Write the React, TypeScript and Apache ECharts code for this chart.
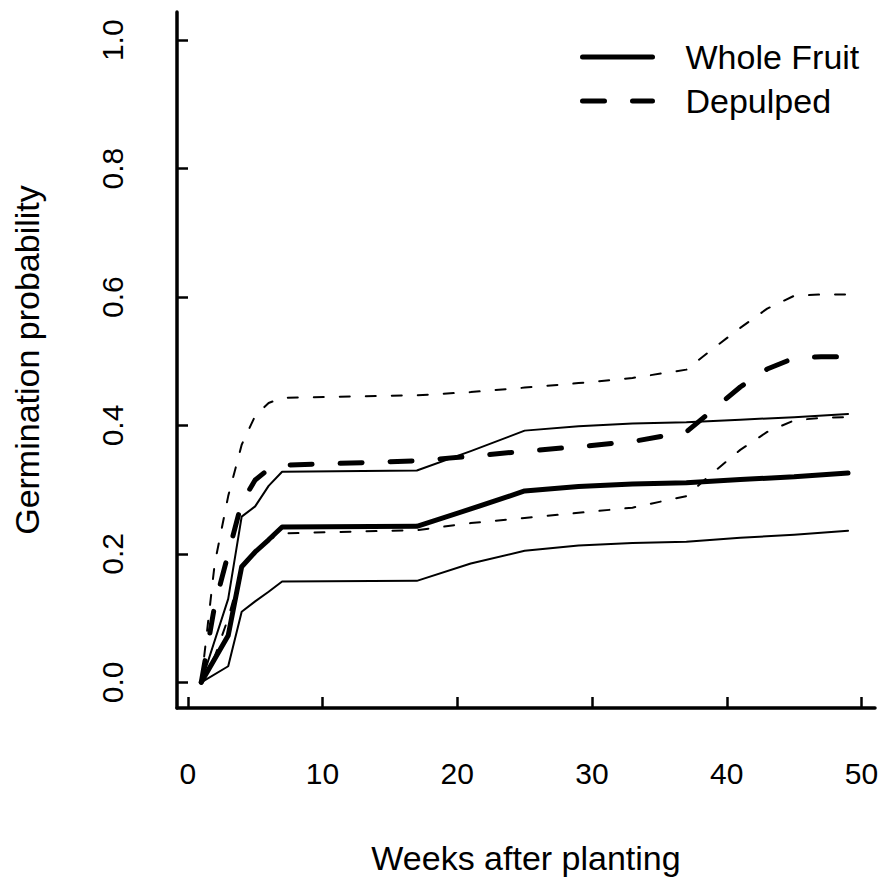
import React, { useEffect, useRef } from "react";
import * as echarts from "echarts";

// Weeks after planting (x) and germination probability (y)
const wfWeeks = [1, 3, 4, 5, 6, 7, 17, 21, 25, 29, 33, 37, 41, 45, 49];
const wfMean = [0, 0.073, 0.18, 0.203, 0.222, 0.242, 0.243, 0.27, 0.298, 0.305, 0.309, 0.311, 0.316, 0.32, 0.326];
const wfUpper = [0, 0.13, 0.258, 0.274, 0.306, 0.328, 0.33, 0.36, 0.392, 0.399, 0.403, 0.405, 0.409, 0.413, 0.418];
const wfLower = [0, 0.025, 0.11, 0.126, 0.141, 0.157, 0.158, 0.185, 0.205, 0.213, 0.217, 0.219, 0.225, 0.23, 0.236];

const dpWeeks = [1, 2, 3, 4, 5, 6, 7, 17, 21, 25, 29, 33, 37, 39, 41, 43, 45, 47, 49];
const dpMean = [0, 0.12, 0.2, 0.28, 0.315, 0.332, 0.338, 0.345, 0.352, 0.36, 0.367, 0.375, 0.39, 0.425, 0.46, 0.488, 0.505, 0.507, 0.507];
const dpUpper = [0, 0.185, 0.29, 0.37, 0.415, 0.435, 0.443, 0.447, 0.452, 0.459, 0.466, 0.474, 0.487, 0.52, 0.552, 0.582, 0.602, 0.604, 0.604];
const dpLower = [0, 0.04, 0.1, 0.175, 0.205, 0.222, 0.232, 0.237, 0.248, 0.256, 0.264, 0.272, 0.29, 0.327, 0.362, 0.39, 0.408, 0.412, 0.413];

const xTicks = [0, 10, 20, 30, 40, 50];
const yTicks = [0, 0.2, 0.4, 0.6, 0.8, 1.0];

const legendNames = ["Whole Fruit", "Depulped"];
const xTitle = "Weeks after planting";
const yTitle = "Germination probability";

const FONT = "Liberation Sans, Arial, Helvetica, sans-serif";

function pairs(xs: number[], ys: number[]) {
  return xs.map((x, i) => [x, ys[i]]);
}

export default function App() {
  const ref = useRef<HTMLDivElement>(null);
  useEffect(() => {
    if (!ref.current) return;
    const chart = echarts.init(ref.current, undefined, { renderer: "svg" });
    const thick = 5;
    const thin = 2;
    const thickDash = [22, 28];
    const thinDash = [10, 16];
    const mk = (name: string, xs: number[], ys: number[], width: number, type: any, z: number) => ({
      name,
      type: "line",
      data: pairs(xs, ys),
      symbol: "none",
      silent: true,
      z,
      lineStyle: { color: "#000", width, type, cap: "round", join: "round" },
      itemStyle: { color: "#000" },
    });
    chart.setOption({
      animation: false,
      backgroundColor: "#fff",
      textStyle: { fontFamily: FONT },
      grid: { left: 177, right: 8, top: 12, bottom: 171, containLabel: false },
      legend: {
        data: legendNames,
        orient: "vertical",
        left: 575,
        top: 35,
        padding: 5,
        itemWidth: 70,
        itemHeight: 6,
        itemGap: 10,
        itemStyle: { opacity: 0 },
        lineStyle: { width: 5, cap: "round" },
        selectedMode: false,
        textStyle: { fontFamily: FONT, fontSize: 34, color: "#000", padding: [0, 0, 0, 28] },
      },
      xAxis: {
        type: "value",
        min: -0.8,
        max: 51,
        name: xTitle,
        nameLocation: "middle",
        nameGap: 133,
        nameTextStyle: { fontFamily: FONT, fontSize: 34, color: "#000" },
        axisLine: { show: true, onZero: false, lineStyle: { color: "#000", width: 3.5 } },
        axisTick: { show: true, inside: true, length: 11, customValues: xTicks, lineStyle: { color: "#000", width: 2.5 } },
        axisLabel: { customValues: xTicks, margin: 50, fontSize: 30, color: "#000", fontFamily: FONT },
        splitLine: { show: false },
      },
      yAxis: {
        type: "value",
        min: -0.04,
        max: 1.044,
        name: yTitle,
        nameLocation: "middle",
        nameRotate: 90,
        nameGap: 133,
        nameTextStyle: { fontFamily: FONT, fontSize: 34, color: "#000" },
        axisLine: { show: true, onZero: false, lineStyle: { color: "#000", width: 3.5 } },
        axisTick: { show: true, inside: true, length: 11, customValues: yTicks, lineStyle: { color: "#000", width: 2.5 } },
        axisLabel: {
          customValues: yTicks,
          rotate: 90,
          margin: 50,
          fontSize: 30,
          color: "#000",
          fontFamily: FONT,
          formatter: (v: number) => v.toFixed(1),
        },
        splitLine: { show: false },
      },
      series: [
        mk("Whole Fruit upper", wfWeeks, wfUpper, thin, "solid", 2),
        mk("Whole Fruit lower", wfWeeks, wfLower, thin, "solid", 2),
        mk("Depulped upper", dpWeeks, dpUpper, thin, thinDash, 2),
        mk("Depulped lower", dpWeeks, dpLower, thin, thinDash, 2),
        mk("Depulped", dpWeeks, dpMean, thick, thickDash, 3),
        mk("Whole Fruit", wfWeeks, wfMean, thick, "solid", 4),
      ],
    });
    return () => chart.dispose();
  }, []);
  return (
    <div
      ref={ref}
      style={{ position: "fixed", left: 0, top: 0, width: 883, height: 880, background: "#fff" }}
    />
  );
}
